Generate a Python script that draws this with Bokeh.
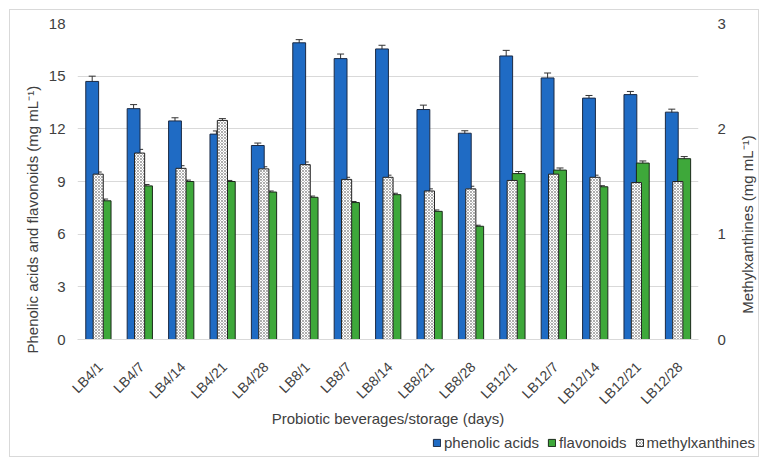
import numpy as np
from bokeh.plotting import figure
from bokeh.layouts import column, row
from bokeh.models import (ColumnDataSource, Range1d, LinearAxis, FixedTicker, Whisker, Label,
                          Legend, LegendItem, CustomJSTickFormatter, TeeHead, Title)
from bokeh.embed import file_html
from bokeh.resources import INLINE

categories = ["LB4/1", "LB4/7", "LB4/14", "LB4/21", "LB4/28",
              "LB8/1", "LB8/7", "LB8/14", "LB8/21", "LB8/28",
              "LB12/1", "LB12/7", "LB12/14", "LB12/21", "LB12/28"]
phenolic = [14.7, 13.15, 12.45, 11.7, 11.05, 16.9, 16.0, 16.55, 13.1, 11.75, 16.15, 14.9, 13.75, 13.95, 12.95]
phenolic_err = [0.3, 0.23, 0.18, 0.18, 0.14, 0.18, 0.26, 0.21, 0.25, 0.14, 0.32, 0.28, 0.15, 0.18, 0.17]
flavonoids = [7.9, 8.75, 9.0, 9.0, 8.4, 8.1, 7.8, 8.25, 7.3, 6.45, 9.45, 9.65, 8.7, 10.05, 10.3]
flavonoids_err = [0.1, 0.08, 0.08, 0.06, 0.06, 0.07, 0.06, 0.08, 0.08, 0.06, 0.12, 0.12, 0.06, 0.12, 0.12]
methylxanthines = [1.57, 1.77, 1.625, 2.08, 1.62, 1.66, 1.52, 1.54, 1.41, 1.43, 1.51, 1.57, 1.54, 1.49, 1.5]
methylxanthines_err = [0.02, 0.035, 0.025, 0.017, 0.02, 0.025, 0.02, 0.02, 0.02, 0.025, 0.02, 0.025, 0.02, 0.02, 0.02]
left_ticks = [0, 3, 6, 9, 12, 15, 18]
right_ticks = [0, 1, 2, 3]
series_names = ["phenolic acids", "flavonoids", "methylxanthines"]

BLUE = "#1f6bc4"
GREEN = "#3ea83a"
TEXT = "#404040"
FONT = "Liberation Sans"
TICK_SHIFT = 0.05

idx = np.arange(len(categories))
ph = np.array(phenolic); phe = np.array(phenolic_err)
fl = np.array(flavonoids); fle = np.array(flavonoids_err)
me = np.array(methylxanthines); mee = np.array(methylxanthines_err)

src = ColumnDataSource(dict(
    xp=idx - 0.145, xf=idx + 0.155, xm=idx + 0.0,
    ph=ph, ph_u=ph + phe, ph_l=ph - phe,
    fl=fl, fl_u=fl + fle, fl_l=fl - fle,
    me=me, me_u=me + mee, me_l=me - mee,
))

BLUE_STYLE = dict(fill_color=BLUE, line_color="#1b2a44", line_width=1)
GREEN_STYLE = dict(fill_color=GREEN, line_color="#1b2a1b", line_width=1)
DOT_STYLE = dict(fill_color="white", line_color="#222", line_width=1,
                 hatch_pattern="x", hatch_scale=3, hatch_color="#777", hatch_weight=0.6)

def no_align(fig):
    if "frame_align" in fig.properties():
        fig.frame_align = False
        return True
    return False

p = figure(width=720, height=419, output_backend="svg", toolbar_location=None,
           x_range=Range1d(-0.5, len(categories) - 0.5), y_range=Range1d(0, 18),
           min_border_left=67, min_border_right=32, min_border_top=13, min_border_bottom=80,
           outline_line_color=None, background_fill_color="white", border_fill_color="white")
p.extra_y_ranges = {"meth": Range1d(0, 3)}

def whisk(base, up, lo, **kw):
    return Whisker(source=src, base=base, upper=up, lower=lo, line_color="#333", line_width=1,
                   upper_head=TeeHead(size=7, line_color="#333", line_width=1),
                   lower_head=TeeHead(size=7, line_color="#333", line_width=1), **kw)

p.vbar(x="xp", top="ph", width=0.31, source=src, **BLUE_STYLE)
p.vbar(x="xf", top="fl", width=0.31, source=src, **GREEN_STYLE)
p.add_layout(whisk("xp", "ph_u", "ph_l"))
p.add_layout(whisk("xf", "fl_u", "fl_l"))
p.vbar(x="xm", top="me", width=0.245, source=src, y_range_name="meth", **DOT_STYLE)
p.add_layout(whisk("xm", "me_u", "me_l", y_range_name="meth"))

# grid and axes
p.xgrid.visible = False
p.ygrid.grid_line_color = "#d9d9d9"
p.ygrid.ticker = FixedTicker(ticks=left_ticks)

xa = p.xaxis[0]
xa.ticker = FixedTicker(ticks=list(idx + TICK_SHIFT))
xa.formatter = CustomJSTickFormatter(args=dict(labels=categories, shift=TICK_SHIFT),
                                     code="return labels[Math.round(tick - shift)] || '';")
xa.major_label_orientation = np.pi / 4
xa.axis_line_color = "#d9d9d9"
xa.major_tick_line_color = None
xa.minor_tick_line_color = None
xa.major_label_standoff = 19
xa.major_label_text_font_size = "14px"
xa.axis_label = "Probiotic beverages/storage (days)"
xa.axis_label_standoff = -6

ya = p.yaxis[0]
ya.ticker = FixedTicker(ticks=left_ticks)
ya.axis_line_color = None
ya.major_tick_line_color = None
ya.minor_tick_line_color = None
ya.major_label_standoff = 6
ya.major_label_text_font_size = "15px"

ra = LinearAxis(y_range_name="meth", ticker=FixedTicker(ticks=right_ticks))
ra.axis_line_color = None
ra.major_tick_line_color = None
ra.minor_tick_line_color = None
ra.major_label_standoff = 13
ra.major_label_text_font_size = "15px"
p.add_layout(ra, "right")

for ax in (xa, ya, ra):
    ax.major_label_text_font = FONT
    ax.major_label_text_color = TEXT
    ax.axis_label_text_font = FONT
    ax.axis_label_text_font_size = "15px"
    ax.axis_label_text_font_style = "normal"
    ax.axis_label_text_color = TEXT

p.add_layout(Title(text="Phenolic acids and  flavonoids (mg mL\u207b\u00b9)", align="left", offset=-14,
                   text_font=FONT, text_font_size="15px", text_font_style="normal",
                   text_color=TEXT, standoff=9), "left")

# right-hand title strip
pr = figure(width=28, height=419, output_backend="svg", toolbar_location=None,
            x_range=Range1d(0, 1), y_range=Range1d(0, 1),
            x_axis_location=None, y_axis_location=None,
            min_border_left=0, min_border_right=0, min_border_top=13, min_border_bottom=80,
            outline_line_color=None, background_fill_color="white", border_fill_color="white")
pr.grid.visible = False
no_align(pr)
pr.add_layout(Label(x=17, y=125, x_units="screen", y_units="screen",
                    text="Methylxanthines (mg mL\u207b\u00b9)", angle=np.pi / 2,
                    text_align="center", text_baseline="middle", text_font=FONT,
                    text_font_size="15px", text_color=TEXT))

# legend strip below the chart (legend-only renderers carry no visible data)
pl = figure(width=748, height=27, output_backend="svg", toolbar_location=None,
            x_range=Range1d(0, 1), y_range=Range1d(0, 1),
            x_axis_location=None, y_axis_location=None, min_border=0,
            outline_line_color=None, background_fill_color="white", border_fill_color="white")
pl.grid.visible = False
free = no_align(pl)
empty = dict(x=np.array([np.nan]), top=np.array([np.nan]))
lp = pl.vbar(x="x", top="top", width=0.1, source=ColumnDataSource(dict(empty)), **BLUE_STYLE)
lf = pl.vbar(x="x", top="top", width=0.1, source=ColumnDataSource(dict(empty)), **GREEN_STYLE)
lm = pl.vbar(x="x", top="top", width=0.1, source=ColumnDataSource(dict(empty)), **DOT_STYLE)
legend = Legend(items=[LegendItem(label=series_names[0], renderers=[lp]),
                       LegendItem(label=series_names[1], renderers=[lf]),
                       LegendItem(label=series_names[2], renderers=[lm])],
                location=(422 if free else 355, 5), orientation="horizontal",
                glyph_width=9, glyph_height=9, label_standoff=3, spacing=8, padding=0, margin=0,
                label_height=17, border_line_color=None, background_fill_alpha=0,
                label_text_font=FONT, label_text_font_size="15px", label_text_color=TEXT)
pl.add_layout(legend, "center")

layout = column(row(p, pr, spacing=0), pl, spacing=0)
layout.styles = {"margin": "9px", "border": "1px solid #d9d9d9"}

open("out.html", "w").write(file_html(layout, INLINE))
